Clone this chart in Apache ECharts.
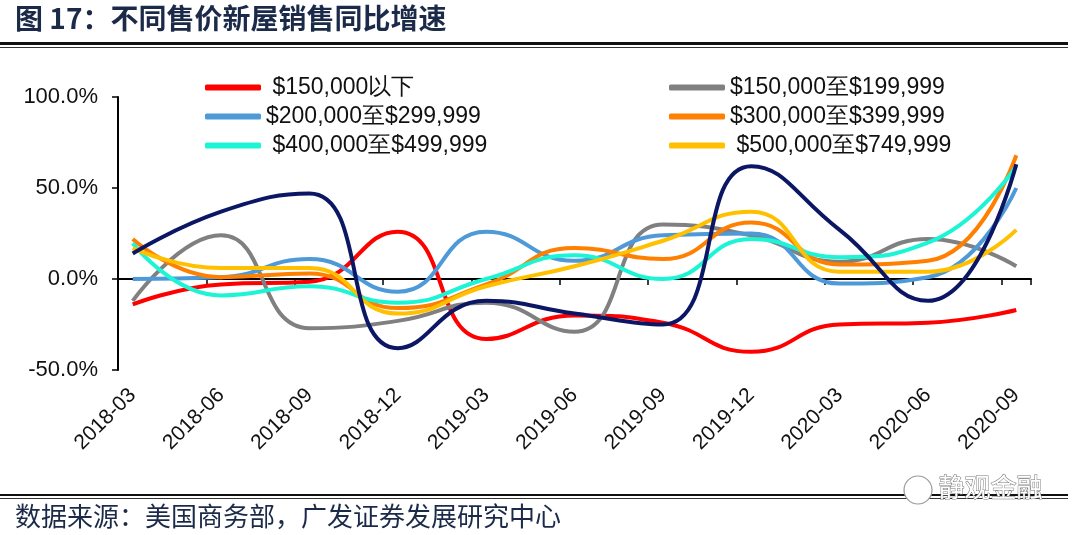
<!DOCTYPE html>
<html>
<head>
<meta charset="utf-8">
<script src="https://cdn.jsdelivr.net/npm/echarts@6/dist/echarts.min.js"></script>
<style>
html,body{margin:0;padding:0;background:#fff;}
#chart{width:1080px;height:535px;}
</style>
</head>
<body>
<div id="chart"></div>
<script>
// Monthly axis slots (data are quarterly, placed every 3rd month)
const months = [
  '2018-03','2018-04','2018-05','2018-06','2018-07','2018-08','2018-09','2018-10','2018-11','2018-12',
  '2019-01','2019-02','2019-03','2019-04','2019-05','2019-06','2019-07','2019-08','2019-09','2019-10',
  '2019-11','2019-12','2020-01','2020-02','2020-03','2020-04','2020-05','2020-06','2020-07','2020-08','2020-09'
];
const quarters = ['2018-03','2018-06','2018-09','2018-12','2019-03','2019-06','2019-09','2019-12','2020-03','2020-06','2020-09'];

const seriesNames = [
  '$150,000以下', '$150,000至$199,999', '$200,000至$299,999',
  '$300,000至$399,999', '$400,000至$499,999', '$500,000至$749,999', '$750,000以上'
];
const under150   = [-14, -3, -1.5, 26, -33, -20, -24, -40, -25, -24, -17];
const r150_199   = [-12, 24, -27, -23, -13, -29, 30, 24, 9.5, 22, 7];
const r200_299   = [0, 1, 11, -7, 26, 10, 24, 25, -2.5, 1, 50];
const r300_399   = [22, 1, 3, -16, -3, 17, 11, 31, 8, 10, 68];
const r400_499   = [19.6, -9, -4, -13, 0, 13, 0, 22, 12, 20, 62];
const r500_749   = [17, 6, 6, -19, -4, 7, 21, 37, 4, 4, 27];
const over750    = [14, 37, 47, -38, -12, -19, -25, 62, 27, -12, 63];

const yTicks = [-50, 0, 50, 100];

const colors = ['#FF0000', '#808080', '#4E9AD9', '#FF7F00', '#1CF5D5', '#FFC000', '#0B1764'];
const values = [under150, r150_199, r200_299, r300_399, r400_499, r500_749, over750];

function toPairs(arr) {
  return arr.map((v, i) => [months.indexOf(quarters[i]), v]);
}

const series = values.map((arr, i) => ({
  name: seriesNames[i],
  type: 'line',
  xAxisIndex: 0,
  data: toPairs(arr),
  smooth: 0.5,
  showSymbol: false,
  symbol: 'none',
  lineStyle: { width: 4, color: colors[i] },
  itemStyle: { color: colors[i] },
  z: i === 6 ? 3 : 2
}));

const chart = echarts.init(document.getElementById('chart'));
const legendText = { fontSize: 23, color: '#111', fontFamily: 'Liberation Sans, Arial', lineHeight: 22 };
const padNames = { '$150,000以下': ' ', '$400,000至$499,999': ' ', '$500,000至$749,999': ' ' };
chart.setOption({
  animation: false,
  backgroundColor: '#fff',
  grid: { left: 118, right: 49, top: 97, bottom: 165, containLabel: false },
  legend: [
    {
      data: [seriesNames[0], seriesNames[2], seriesNames[4]],
      orient: 'vertical', left: 200, top: 71,
      itemWidth: 56, itemHeight: 6, itemGap: 6, icon: 'roundRect',
      textStyle: legendText,
      formatter: n => (padNames[n] || '') + n
    },
    {
      data: [seriesNames[1], seriesNames[3], seriesNames[5]],
      orient: 'vertical', left: 664, top: 71,
      itemWidth: 56, itemHeight: 6, itemGap: 6, icon: 'roundRect',
      textStyle: legendText,
      formatter: n => (padNames[n] || '') + n
    }
  ],
  xAxis: [
    {
      type: 'category',
      data: months,
      boundaryGap: true,
      position: 'bottom',
      axisLine: { show: false, onZero: false },
      axisTick: { show: false },
      axisLabel: {
        interval: 2, rotate: 45, margin: 22,
        fontSize: 21, color: '#111', fontFamily: 'Liberation Sans, Arial'
      },
      splitLine: { show: false }
    },
    {
      type: 'category',
      data: months,
      boundaryGap: true,
      position: 'top',
      axisLine: { show: true, onZero: true, lineStyle: { color: '#000', width: 2 } },
      axisTick: { show: true, interval: 2, inside: true, length: 6, lineStyle: { color: '#000', width: 1.5 } },
      axisLabel: { show: false },
      splitLine: { show: false }
    }
  ],
  yAxis: {
    type: 'value',
    min: yTicks[0], max: yTicks[yTicks.length - 1], interval: 50,
    axisLine: { show: true, lineStyle: { color: '#000', width: 2 } },
    axisTick: { show: true, length: 6, lineStyle: { color: '#000', width: 1.5 } },
    axisLabel: {
      formatter: v => v.toFixed(1) + '%', margin: 20,
      fontSize: 22, color: '#111', fontFamily: 'Liberation Sans, Arial'
    },
    splitLine: { show: false }
  },
  series: series,
  graphic: [
    { type: 'text', left: 15, top: 4, style: { text: '图 17：不同售价新屋销售同比增速', font: 'bold 28px "Noto Sans CJK SC"', fill: '#1B2A48' } },
    { type: 'rect', shape: { x: 0, y: 42, width: 1068, height: 3 }, style: { fill: '#111' } },
    { type: 'rect', shape: { x: 0, y: 47, width: 1068, height: 1 }, style: { fill: '#333' } },
    { type: 'rect', shape: { x: 0, y: 494, width: 1068, height: 2 }, style: { fill: '#111' } },
    { type: 'rect', shape: { x: 0, y: 498, width: 1068, height: 1 }, style: { fill: '#333' } },
    { type: 'text', left: 15, top: 503, style: { text: '数据来源：美国商务部，广发证券发展研究中心', font: '26px "Noto Sans CJK SC"', fill: '#1B2A48' } },
    { type: 'circle', shape: { cx: 918, cy: 490, r: 14 }, style: { fill: '#fff', stroke: '#999', lineWidth: 1.2 } },
    { type: 'text', left: 938, top: 474, style: { text: '静观金融', font: '26px "Noto Sans CJK SC"', fill: '#fff', stroke: '#777', lineWidth: 1 } }
  ]
});
</script>
</body>
</html>
